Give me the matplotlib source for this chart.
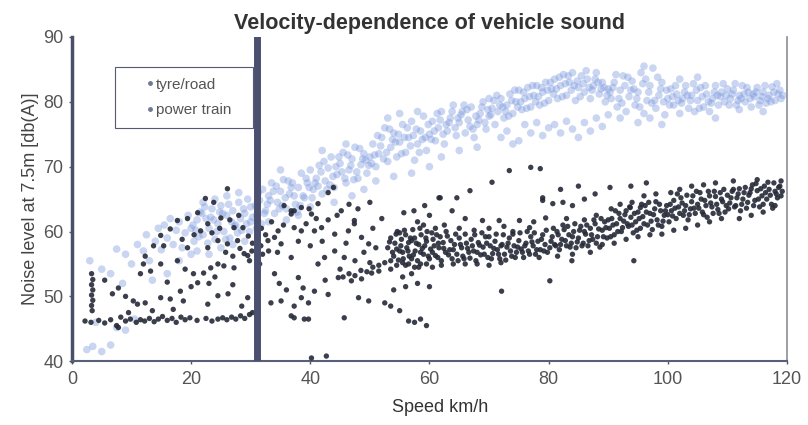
import matplotlib.pyplot as plt
from matplotlib.lines import Line2D

plt.rcParams['font.family'] = ['Liberation Sans', 'DejaVu Sans']

# tyre/road noise: speed (km/h) and level (dB(A))
tyre_speed = [
    2.5, 3.5, 5, 6.5, 4, 7.5, 9, 10.5, 3, 5, 6.5, 7.5, 9, 10, 11, 8.5,
    12, 12.5, 13, 14, 14.5, 15, 15.5, 16, 16.5, 17, 17.5, 18, 18.5, 19, 19.5, 20, 13.5, 16, 18, 20,
    20.5, 21, 21.5, 22, 22.5, 23, 23.5, 24, 24.5, 25, 25.5, 26, 26.5, 27, 27.5, 28, 28.5, 29, 29.5, 30,
    21, 23, 25, 27, 29, 22, 24, 26, 28, 30,
    31, 31.5, 32, 32.5, 33, 33.5, 34, 34.5, 35, 35.5, 36, 36.5, 37, 37.5, 38, 38.5, 39, 39.5, 40, 40,
    33, 36, 38, 35, 31,
    40.5, 41, 41.5, 42, 42.5, 43, 43.5, 44, 44.5, 45, 45.5, 46, 46.5, 47, 47.5, 48, 48.5, 49, 49.5, 50,
    44, 47, 49, 46, 42,
    50.5, 51, 51.5, 52, 52.5, 53, 53.5, 54, 54.5, 55, 55.5, 56, 56.5, 57, 57.5, 58, 58.5, 59, 59.5, 60,
    51, 54, 57, 60, 55, 58, 53,
    60.5, 61, 61.5, 62, 62.5, 63, 63.5, 64, 64.5, 65, 65.5, 66, 66.5, 67, 67.5, 68, 68.5, 69, 69.5, 70,
    62, 65, 68, 70,
    70.5, 71, 71.5, 72, 72.5, 73, 73.5, 74, 74.5, 75, 75.5, 76, 76.5, 77, 77.5, 78, 78.5, 79, 79.5, 80,
    72, 73, 75, 76, 77, 78, 79, 80, 74,
    80.5, 81, 81.5, 82, 82.5, 83, 83.5, 84, 84.5, 85, 85.5, 86, 86.5, 87, 87.5, 88, 88.5, 89, 89.5, 90,
    81, 82, 83, 84, 85, 86, 87, 88, 89, 90,
    90.5, 91, 91.5, 92, 92.5, 93, 93.5, 94, 94.5, 95, 95.5, 96, 96.5, 97, 97.5, 98, 98.5, 99, 99.5, 100,
    92, 95, 97, 99, 96,
    100.5, 101, 101.5, 102, 102.5, 103, 103.5, 104, 104.5, 105, 105.5, 106, 106.5, 107, 107.5, 108,
    108.5, 109, 109.5, 110, 102, 105, 108,
    110.5, 111, 111.5, 112, 112.5, 113, 113.5, 114, 114.5, 115, 115.5, 116, 116.5, 117, 117.5, 118,
    118.5, 119, 112, 116,
    20.8, 21.8, 22.8, 23.8, 24.8, 25.8, 26.8, 27.8, 28.8, 29.8,
    30.8, 31.8, 32.8, 33.8, 34.8, 35.8, 36.8, 37.8, 38.8, 39.8,
    40.8, 41.8, 42.8, 43.8, 44.8, 45.8, 46.8, 47.8, 48.8, 49.8,
    50.8, 51.8, 52.8, 53.8, 54.8, 55.8, 56.8, 57.8, 58.8, 59.8,
    60.8, 61.8, 62.8, 63.8, 64.8, 65.8, 66.8, 67.8, 68.8, 69.8,
    70.8, 71.8, 72.8, 73.8, 74.8, 75.8, 76.8, 77.8, 78.8, 79.8,
    80.8, 81.8, 82.8, 83.8, 84.8, 85.8, 86.8, 87.8, 88.8, 89.8,
    90.8, 91.8, 92.8, 93.8, 94.8, 95.8, 96.8, 97.8, 98.8, 99.8,
    100.8, 101.8, 102.8, 103.8, 104.8, 105.8, 106.8, 107.8, 108.8, 109.8,
    110.8, 111.8, 112.8, 113.8, 114.8, 115.8, 116.8, 117.8, 118.8,
    20.3, 21.3, 22.3, 23.3, 24.3, 25.3, 26.3, 27.3, 28.3, 29.3,
    30.3, 31.3, 32.3, 33.3, 34.3, 35.3, 36.3, 37.3, 38.3, 39.3,
    40.3, 41.3, 42.3, 43.3, 44.3, 45.3, 46.3, 47.3, 48.3, 49.3,
    50.3, 51.3, 52.3, 53.3, 54.3, 55.3, 56.3, 57.3, 58.3, 59.3,
    60.3, 61.3, 62.3, 63.3, 64.3, 65.3, 66.3, 67.3, 68.3, 69.3,
    70.3, 71.3, 72.3, 73.3, 74.3, 75.3, 76.3, 77.3, 78.3, 79.3,
    80.3, 81.3, 82.3, 83.3, 84.3, 85.3, 86.3, 87.3, 88.3, 89.3,
    90.3, 91.3, 92.3, 93.3, 94.3, 95.3, 96.3, 97.3, 98.3, 99.3,
    100.3, 101.3, 102.3, 103.3, 104.3, 105.3, 106.3, 107.3, 108.3, 109.3,
    110.3, 111.3, 112.3, 113.3, 114.3, 115.3, 116.3, 117.3, 118.3, 119.3,
]
tyre_level = [
    41.8, 42.3, 41.5, 42.5, 46, 45.2, 44.8, 46.5, 55.5, 54.2, 53.5, 57.3, 56.5, 55, 58, 52,
    57, 59.5, 55.5, 58.5, 60.5, 57.2, 61, 59, 62, 58, 60.2, 61.5, 57.5, 59.8, 62.5, 60.5, 52.5, 53.5, 55.5, 56.5,
    58.5, 61.8, 63, 59.5, 62, 60.5, 63.5, 58.8, 61.2, 64, 60, 62.5, 59, 63.2, 61, 64.5, 60.2, 62.8, 65, 61.5,
    57, 56.5, 57.5, 58, 58.5, 64.5, 65, 65.5, 66, 63.8,
    62.5, 64.8, 66.5, 63.2, 65.5, 67.5, 62.8, 64.5, 66.2, 68, 63.5, 65.8, 67.5, 64.2, 66.8, 69, 65.2, 67.5, 63.8, 69.5,
    61.5, 61.8, 62.5, 69.5, 60.5,
    66.5, 68.2, 70.2, 65.8, 67.8, 69.8, 71.5, 66.8, 68.8, 70.5, 72.2, 67.5, 69.5, 71.2, 73, 68.2, 70.3, 72, 69, 71.5,
    64.5, 65.5, 66.5, 73.5, 72.5,
    73.5, 70, 72, 74.5, 76, 70.8, 73, 75.2, 71.5, 73.8, 76.5, 72.2, 74.5, 77, 71, 73.5, 75.5, 77.8, 72.5, 75,
    67.8, 68.5, 69, 70, 78.2, 78.5, 77.5,
    77, 74, 76, 78.5, 73.5, 75.5, 77.5, 79.5, 74.8, 76.8, 78.5, 75.2, 77.2, 79.2, 74.5, 76.5, 78.2, 80, 75.8, 77.8,
    71.5, 72.5, 73, 80.5,
    79, 76.5, 78.5, 80.5, 77.5, 79.5, 81.2, 78.2, 80, 81.8, 78.8, 80.5, 82.2, 79.2, 81, 82.5, 79.5, 81.5, 83, 80.2,
    74.5, 75.5, 74, 76.5, 75.2, 76.8, 74.8, 76, 73.5,
    82, 83.5, 80.5, 82.5, 84.2, 81, 83, 84.5, 80.2, 82.2, 84, 81.5, 83.5, 80.5, 82.5, 84.5, 81.2, 83, 80, 82,
    76.5, 75.2, 77, 75.8, 74.5, 76.8, 75.5, 77.5, 76.2, 78,
    80.5, 83, 79.2, 81.8, 84, 78.5, 80.8, 83.2, 79.5, 81.5, 84.5, 78.2, 80.2, 82.5, 85.2, 79, 81, 83, 78, 80.5,
    77.5, 76.8, 77.5, 76.5, 85.5,
    82, 79.5, 81.2, 78.2, 80.5, 82.5, 79, 81, 78.5, 80.2, 82.2, 79.2, 81.2, 78.5, 80.5, 82.5,
    79.5, 81.5, 80, 82, 83.5, 83.8, 77.5,
    80.5, 81.8, 79.5, 81, 82.5, 80, 81.5, 79.2, 80.8, 82.2, 80.2, 81.5, 79.8, 81, 82.3, 80.2,
    81.2, 80.5, 78.8, 78.5,
    60.2, 62.8, 58.2, 61.8, 63, 58.8, 61.5, 59.8, 63.5, 60,
    64, 61.2, 64.2, 66.2, 63.5, 65.2, 66.8, 63, 65.5, 66.8,
    67.5, 69.2, 66.5, 68.5, 71.5, 68.2, 70.2, 69.2, 71.2, 70.2,
    71.8, 73.2, 72.2, 74.2, 75, 74.5, 73.2, 75.8, 74.2, 76.5,
    75.5, 77.2, 76.5, 78.5, 77.5, 79.5, 76.2, 77.8, 79.2, 78.8,
    80.2, 79.5, 78.5, 80.2, 79.2, 81.5, 80.8, 80, 82.2, 81.8,
    81.2, 83.8, 82.8, 81.8, 83.2, 82.8, 82.2, 83.5, 82, 81,
    82.2, 80.5, 82.5, 81.8, 80.5, 82.8, 81.5, 80.2, 82, 81.8,
    80.8, 80.2, 81.5, 80.2, 81.8, 80.8, 80, 81.5, 80.8, 81,
    81.2, 80.2, 81.2, 80.5, 81.5, 80.8, 80.5, 81.5, 81.8,
    61, 59.2, 63.8, 62.2, 60, 62.8, 64.2, 60.8, 62, 61.2,
    62.2, 66, 62.8, 64.8, 67, 64, 67.8, 65.5, 64, 68.2,
    65.2, 67, 70.8, 67.2, 70, 69.2, 71.8, 68, 72.8, 71,
    70.5, 74.8, 71.2, 75.8, 73.8, 72, 76, 74.8, 72.2, 74.5,
    74.2, 78.2, 75, 76.8, 76, 78, 78.8, 75.8, 77.2, 76.8,
    78, 81, 79.2, 77.8, 81.8, 80, 79, 82.5, 80.8, 79.8,
    83, 82, 80.8, 84, 82.5, 80.8, 84.8, 81.8, 83, 82.2,
    81.5, 84.2, 79.8, 83.8, 82, 79.2, 83.5, 79.8, 83.8, 80,
    79.5, 82.5, 79.8, 81, 82.8, 79, 82.5, 79.8, 81, 82.8,
    79.5, 82.8, 80.5, 82.2, 81.2, 79.5, 82.5, 80, 82.8, 81,
]

# power train noise: speed (km/h) and level (dB(A))
power_speed = [
    3.3, 3.5, 3.3, 3.5, 3.3, 3.5, 3.3, 3.4,
    2.2, 3.2, 4.5, 5.5, 6.5, 7.5, 8.2, 9, 9.8, 10.8, 11.5, 12.2, 13, 13.8, 14.5, 15.2, 16, 16.8, 17.5,
    18.3, 19, 19.8, 21, 22.5, 23.5, 24.5, 25.3, 26, 26.8, 27.5, 28.3, 29, 29.8, 30.3, 7.8, 9.5,
    26.1, 22.4, 23.8, 21.1, 19.4, 17.7, 16.5, 14.9, 13.7, 12.3, 11.5, 7.8, 6.8, 12.3, 11, 14.9, 18.2,
    16.5, 18.7, 22.8, 24.5, 26.2, 21.1, 20.4, 22.1, 23.3, 24.5, 25.5, 27.2, 14.9, 17.7, 19.4, 22.8,
    24.5, 26.1, 27.8, 28.9, 29.5, 28.7, 27.2, 25, 22.8, 21.6, 15.4, 13.2, 12, 10.3,
    29.8, 30.2, 30.3, 29.6, 28.2, 27, 25.8, 24, 23, 20, 18.5, 20.5, 23.5, 26.5, 28, 24.8, 17, 13.5,
    28.5, 29.5, 27, 19, 16, 9, 5.5,
    31.7, 32.9, 34, 35.1, 36.8, 38.5, 40.2, 41.3, 40.7, 38.5, 36.8, 34, 33.4, 35.1, 36.8, 39.7, 37.3,
    38.5, 39.7, 34.6, 37.3, 36.8, 39.3, 41.9, 44.1, 46.4, 47.4, 48.6, 49.8, 41.3, 42.4, 44.1, 45.7,
    38, 38.8, 40.7, 43, 48.1, 49.8, 45.7, 37.3, 39, 44.7, 46.9, 48.6, 50.3, 51.5, 43, 43.9, 35.6,
    37.3, 39.8, 45.2, 47.4, 52, 42.7, 40.2,
    31.5, 32, 32.5, 31.8, 33, 34.5, 33.5, 35.5, 42, 43, 44.5, 46, 45, 47.5, 50, 49, 50.5, 51, 42.5,
    36, 34.8, 40, 38, 41, 48, 50, 46.5,
    53, 53.5, 54, 54.2, 54.6, 55, 55.3, 55.6, 56, 56.2, 56.6, 57, 57.2, 57.6, 58, 58.2, 58.6, 59,
    59.2, 59.6, 60, 60.2, 60.6, 61, 61.2, 61.6, 62, 62.3, 62.7, 63, 63.4, 63.8, 64.2, 64.6, 65,
    65.4, 65.8, 66.2, 66.6, 67, 67.4, 67.8, 68.2, 68.6, 69, 69.4, 69.8, 70.2, 70.6, 71, 71.4, 71.8,
    72.2, 72.6, 73, 73.4, 73.8, 74.2, 74.6, 75, 75.4, 75.8, 76.2, 76.6, 77, 77.4, 77.8, 78.2, 78.6,
    79, 79.4, 79.8,
    54.5, 55.5, 56.5, 57.5, 58.5, 59.5, 60.5, 61.5, 55, 57, 59, 61, 53.5, 56, 58.2,
    45.5, 46.5, 47.5, 48.5, 49.5, 50.5, 51.5, 52.5, 53.5, 54.5, 55.5, 56.5, 57.5, 58.5, 59.5, 60.5,
    62, 64, 66, 68, 70, 72,
    52.5, 53.5, 55, 56.5, 57.5, 58.5, 59.5, 54, 56, 58, 60, 55.5, 57,
    55.7, 57.4, 59.2, 61.6, 63.8, 66, 68.9, 71.7, 75.1, 76.8, 79, 79.5, 73.4, 78.6, 77, 70.5, 66.8,
    61.8, 64.6, 62.5, 65, 67.5, 70, 72.5, 74, 77.5, 60, 58,
    72.1, 80.2, 94.3, 83.9,
    80.2, 80.6, 81, 81.4, 81.8, 82.2, 82.6, 83, 83.4, 83.8, 84.2, 84.6, 85, 85.4, 85.8, 86.2, 86.6,
    87, 87.4, 87.8, 88.2, 88.6, 89, 89.4, 89.8, 81.5, 84, 87, 88, 86, 83, 89,
    90.2, 90.6, 91, 91.4, 91.8, 92.2, 92.6, 93, 93.4, 93.8, 94.2, 94.6, 95, 95.4, 95.8, 96.2, 96.6,
    97, 97.4, 97.8, 98.2, 98.6, 99, 99.4, 99.8, 91, 93, 95, 97, 99, 92, 94, 96, 98, 90.5,
    100.2, 100.6, 101, 101.4, 101.8, 102.2, 102.6, 103, 103.4, 103.8, 104.2, 104.6, 105, 105.4,
    105.8, 106.2, 106.6, 107, 107.4, 107.8, 108.2, 108.6, 109, 109.4, 109.8, 101, 103, 105, 107,
    109, 102, 104, 106, 108, 100.5,
    110.2, 110.6, 111, 111.4, 111.8, 112.2, 112.6, 113, 113.4, 113.8, 114.2, 114.6, 115, 115.4,
    115.8, 116.2, 116.6, 117, 117.4, 117.8, 118.2, 118.6, 119, 112, 114, 116, 118, 111, 115, 119,
    79, 80.7, 82.4, 84, 86, 87.8, 90.3, 93.8, 96.4, 93.7, 95.4, 82, 85,
    53.3, 53.8, 54.4, 54.8, 55.2, 55.8, 56.4, 56.8, 57.3, 57.8, 58.4, 58.8, 59.4, 59.8, 60.4, 60.8,
    61.4, 61.8, 62.4, 62.8, 63.2, 63.6, 64, 64.4, 64.8, 65.2, 65.6, 66, 66.4, 66.8, 67.2, 67.6, 68,
    68.4, 68.8, 69.2, 69.6, 70, 70.4, 70.8, 71.2, 71.6, 72, 72.4, 72.8, 73.2, 73.6, 74, 74.4, 74.8,
    75.2, 75.6, 76, 76.4, 76.8, 77.2, 77.6, 78, 78.4, 78.8, 79.2, 79.6,
    80.4, 80.8, 81.2, 81.6, 82, 82.4, 82.8, 83.2, 83.6, 84, 84.4, 84.8, 85.2, 85.6, 86, 86.4, 86.8,
    87.2, 87.6, 88, 88.4, 88.8, 89.2, 89.6, 90, 90.4, 90.8, 91.2, 91.6, 92, 92.4, 92.8, 93.2, 93.6,
    94, 94.4, 94.8, 95.2, 95.6, 96, 96.4, 96.8, 97.2, 97.6, 98, 98.4, 98.8, 99.2, 99.6, 100, 100.4,
    100.8, 101.2, 101.6, 102, 102.4, 102.8, 103.2, 103.6, 104, 104.4, 104.8, 105.2, 105.6, 106,
    106.4, 106.8, 107.2, 107.6, 108, 108.4, 108.8, 109.2, 109.6, 110, 110.4, 110.8, 111.2, 111.6,
    112, 112.4, 112.8, 113.2, 113.6, 114, 114.4, 114.8, 115.2, 115.6, 116, 116.4, 116.8, 117.2,
    117.6, 118, 118.4, 118.8, 119.2,
]
power_level = [
    53.5, 52.6, 51.8, 51, 50.2, 49.4, 48.6, 47.8,
    46.2, 46, 46.3, 45.9, 46.4, 45.5, 46.8, 46.2, 46.5, 46, 46.4, 46.2, 46.6, 46.1, 46.5, 46.9, 46.3,
    46.6, 46, 46.8, 46.4, 46.7, 46.3, 46.6, 46.2, 46.5, 46.7, 46.4, 46.8, 46.5, 47, 46.6, 47.2, 47.5,
    45.2, 47.5,
    66.6, 65.1, 64.5, 62.9, 62, 61.7, 60.4, 59.4, 57.8, 56.2, 53.5, 51.3, 50.4, 49, 48.8, 49.8, 50.8,
    49.6, 49.3, 48.8, 50.1, 50.4, 52.1, 53.5, 53.6, 54.4, 55, 54.7, 54.4, 55, 55.5, 57.5, 57.5,
    58.6, 58.1, 58.6, 56.6, 56.3, 60.6, 60.6, 62.1, 61.2, 60.1, 57.8, 53.9, 55, 49.3,
    55.5, 57, 58.2, 59.3, 57.4, 56.2, 56.8, 53, 52, 51.5, 58.8, 59.5, 59.8, 61.8, 62.5, 60.5, 48, 47.8,
    48.5, 49.8, 51.8, 54.2, 52.2, 50, 52.5,
    57.8, 58.6, 59.1, 58.1, 63.2, 63.7, 62.7, 64.3, 60.1, 60.1, 56, 53.5, 49, 49.3, 47, 46.5, 48.5,
    49.8, 49, 60.1, 60.6, 62.7, 61.2, 60.6, 59.6, 60.1, 61.2, 59.1, 58.1, 55, 56, 57, 56,
    52.9, 51.3, 50.8, 50.3, 49.8, 49.3, 46.7, 46.7, 46.5, 52.9, 52.4, 52.7, 53.6, 53.9, 66, 66.8, 64,
    63.2, 63.5, 63.2, 61.7, 62, 40.8, 40.5,
    55, 56.5, 59.5, 60.5, 57, 56.8, 61.5, 61, 58.5, 61.8, 62.5, 58.2, 54.2, 55.5, 55.2, 56.8, 60.5,
    57.5, 52.5, 51, 52, 57.8, 58.5, 62, 63.5, 64.5, 64.2,
    57.5, 59, 56.2, 58.2, 60, 57, 58.8, 55.8, 59.5, 57.5, 56.2, 58.6, 60.3, 57, 55.5, 58, 59.5, 56.5,
    57.8, 60, 55.8, 57.3, 58.8, 56.3, 59.5, 57.5, 55.5, 58.3, 56.8, 59.3, 57.2, 55.8, 58, 56.5, 59,
    57.5, 55.8, 58.2, 56.8, 58.8, 57, 55.5, 58.3, 56.4, 57.6, 59.2, 56, 57.8, 56.6, 58.5, 57.2, 55.8,
    58, 56.5, 57.6, 59, 56.2, 57.8, 56.8, 58.6, 57.3, 56, 58.2, 57, 59.2, 57.8, 56.5, 58.5, 57.2,
    59.5, 58, 56.8,
    57.3, 56.8, 58.3, 59, 56.8, 58.5, 56.8, 58.2, 59.8, 55.8, 61, 60.5, 55.5, 54.8, 54.5,
    53, 53.5, 53.2, 54, 53.8, 54.5, 54.8, 55.2, 54.2, 54.8, 55.2, 55, 54.5, 55, 55, 54.5,
    54.8, 55, 55, 55, 54.8, 55.2,
    49, 48.5, 47.8, 46.2, 46, 46.5, 45.5, 51, 51.5, 52, 51.5, 53, 53.5,
    62.9, 63.2, 64, 65.2, 63.2, 62, 61.7, 61.7, 61.7, 60.6, 64.8, 62.1, 69.4, 69.7, 69.9, 67.6, 66.3,
    65.2, 65.2, 61, 60.5, 60.2, 60.5, 60.8, 60, 61.5, 62.5, 61.5,
    50.8, 52.4, 55.5, 55.5,
    57.5, 59.2, 58, 60, 57.2, 58.8, 60.3, 57.8, 59.5, 58.2, 60, 57.5, 59, 60.8, 58.2, 59.6, 57.8,
    60.5, 58.8, 61.2, 59.2, 57.6, 60.2, 61.5, 59, 56.2, 56.5, 56.8, 62.5, 61.8, 62, 58,
    60.5, 62, 59.5, 61.2, 62.8, 60, 61.6, 63.2, 60.8, 62.2, 59.8, 61.5, 63, 60.5, 62.3, 64, 61,
    62.8, 60.3, 63.5, 61.8, 64.2, 60.8, 62.5, 64, 58.2, 58.8, 59.2, 59.5, 59.6, 64.2, 64.5, 65.5,
    65.8, 63.5,
    61.5, 63.2, 64.8, 62, 63.8, 65.2, 62.5, 64, 61.8, 63.5, 65.5, 62.8, 64.2, 66, 63, 64.8, 62.2,
    65.5, 63.8, 66.2, 64.2, 62.8, 65, 66.5, 64, 60.2, 60.5, 61, 61.5, 62, 66.5, 67, 67.2, 67.5, 66,
    63.5, 65.2, 66.5, 64, 65.8, 63.2, 65, 66.8, 64.5, 66, 67.2, 64.8, 66.3, 63.8, 65.5, 67, 65,
    66.5, 64.2, 67.5, 65.8, 66.8, 67.8, 62, 62.5, 63, 64, 67.8, 68, 65.5,
    65.2, 64.3, 64.5, 64, 65, 65.8, 66.8, 67, 67.5, 63.7, 63.7, 66.5, 67,
    58.4, 56.8, 59.6, 55.6, 57.8, 60.2, 57, 59, 56.4, 58.2, 60.5, 57.4, 59, 56.2, 59.8, 57.8,
    56, 59.2, 57.4, 60, 56.4, 58.6, 57.2, 59.6, 55.5, 58, 56.2, 59.6, 57.4, 55.9, 57.8, 59.5, 56.8,
    57.9, 59.8, 56.5, 58.2, 59.2, 55.8, 57.4, 59.6, 56.5, 57.8, 59.5, 55.6, 58.2, 57, 59.6, 56, 57.6,
    59.8, 56.8, 57.8, 60, 56.5, 58.4, 59.8, 57.2, 56, 58.8, 57, 60.2,
    58.5, 60.5, 57.8, 59.5, 58, 61, 58.6, 60.8, 57.6, 59.2, 61.2, 58.4, 60.2, 57.8, 60, 61, 58.6,
    59.5, 61.8, 58.2, 60.4, 62, 59.2, 60.6, 61.8, 59.2, 61, 63.2, 60, 62, 60.6, 62.6, 61.2, 63.8,
    61, 62.8, 60.2, 62, 64.2, 61.2, 63, 64.5, 61.6, 62.6, 64.6, 61, 63.2, 61.6, 63.2, 62.6, 64.2,
    62.4, 63.6, 65.8, 62.8, 64.4, 63.2, 65.6, 62.6, 64.6, 63.6, 66.2, 63.6, 65, 62.6,
    64, 66.2, 64.4, 62.8, 65.4, 63.4, 66, 64.6, 63, 65.6, 64.4, 66.2, 63.8, 65.2,
    66.6, 64.2, 66, 63.6, 65.6, 66.6, 64, 67.4, 65, 66.6, 64.2, 66, 67.6, 65.6,
    63.6, 66.2, 65.2, 67, 66.2,
]

cutoff_speed = 31  # crossover speed marked by the vertical bar

fig, ax = plt.subplots(figsize=(8.08, 4.25), dpi=100)
fig.subplots_adjust(left=0.089, right=0.974, bottom=0.15, top=0.913)

ax.scatter(tyre_speed, tyre_level, s=30, color='#7f9bdf', alpha=0.42,
           edgecolors='none', zorder=2)
ax.scatter(power_speed, power_level, s=15, color='#262a38', alpha=0.9,
           edgecolors='none', zorder=3)

ax.axvline(cutoff_speed, color='#4b5070', linewidth=5, zorder=4)

ax.set_xlim(0, 120)
ax.set_ylim(40, 90)
ax.set_xticks(range(0, 121, 20))
ax.set_yticks(range(40, 91, 10))
ax.tick_params(labelsize=13, colors='#555555', length=2, width=1)
ax.tick_params(axis='x', pad=5)
ax.tick_params(axis='y', pad=4)

ax.spines['left'].set_color('#4a4f6a')
ax.spines['left'].set_linewidth(2.5)
ax.spines['bottom'].set_color('#5a5f78')
ax.spines['bottom'].set_linewidth(1.5)
ax.spines['right'].set_color('#8a8c9a')
ax.spines['right'].set_linewidth(1.2)
ax.spines['top'].set_visible(False)

ax.set_title('Velocity-dependence of vehicle sound', fontsize=15.5,
             fontweight='bold', color='#333333', pad=6)
ax.set_xlabel('Speed km/h', fontsize=13, color='#333333', labelpad=8, x=0.515)
ax.set_ylabel('Noise level at 7.5m [db(A)]', fontsize=13, color='#444444', labelpad=3)

handles = [
    Line2D([], [], marker='o', linestyle='none', markersize=2.5,
           color='#6f7a96', label='tyre/road'),
    Line2D([], [], marker='o', linestyle='none', markersize=2.5,
           color='#6f7a96', label='power train'),
]
leg = ax.legend(handles=handles, loc='upper left',
                bbox_to_anchor=(0.0605, 0.5, 0.193, 0.407), mode='expand',
                fontsize=11, frameon=True, fancybox=False, framealpha=1,
                edgecolor='#555a70', handletextpad=-1.15, borderpad=0.7,
                labelspacing=0.75, handlelength=3.1, borderaxespad=0)
leg.get_frame().set_linewidth(0.8)
for t in leg.get_texts():
    t.set_color('#555555')

fig.savefig('out.png', dpi=100)
